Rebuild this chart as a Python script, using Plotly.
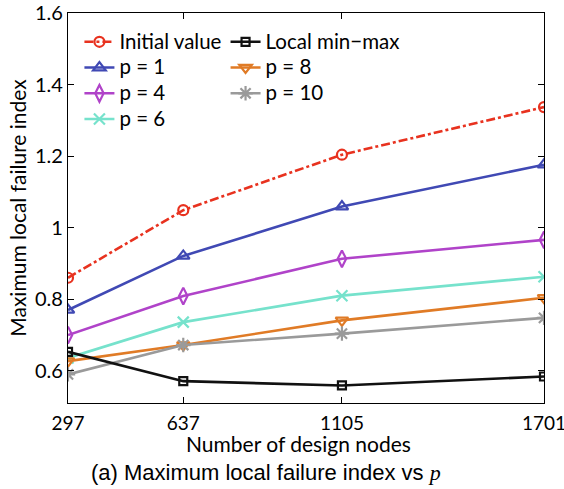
import plotly.graph_objects as go

nodes = [297, 637, 1105, 1701]
initial_value = [0.860, 1.049, 1.204, 1.337]
p1 = [0.770, 0.921, 1.059, 1.176]
p4 = [0.700, 0.809, 0.913, 0.966]
p6 = [0.636, 0.736, 0.810, 0.863]
p8 = [0.627, 0.672, 0.741, 0.804]
p10 = [0.590, 0.672, 0.704, 0.748]
local_minmax = [0.653, 0.571, 0.559, 0.584]

y_ticks = [0.6, 0.8, 1.0, 1.2, 1.4, 1.6]
y_tick_text = ["0.6", "0.8", "1", "1.2", "1.4", "1.6"]

FONT = "Lato"

series = [
    ("Initial value", initial_value, "#e8321f", "circle-open", "dashdot", 10, "legend"),
    ("p = 1", p1, "#4049b4", "triangle-up-open", "solid", 11, "legend"),
    ("p = 4", p4, "#b043c9", "diamond-tall-open", "solid", 12, "legend"),
    ("p = 6", p6, "#76e2cc", "x-thin-open", "solid", 11, "legend"),
    ("Local min\u2212max", local_minmax, "#111111", "square-open", "solid", 8, "legend2"),
    ("p = 8", p8, "#e07b26", "triangle-down-open", "solid", 11, "legend2"),
    ("p = 10", p10, "#9a9a9a", "asterisk-open", "solid", 12, "legend2"),
]

fig = go.Figure()
order = [0, 1, 2, 3, 5, 6, 4]
for i in order:
    name, vals, col, sym, dash, msize, lg = series[i]
    fig.add_trace(go.Scatter(
        x=nodes, y=vals,
        name="<span style='font-size:20.5px'>" + name + "</span>",
        mode="lines+markers",
        line=dict(color=col, width=2.6, dash=dash),
        marker=dict(symbol=sym, size=msize, color=col, line=dict(color=col, width=2.2)),
        legend=lg, legendrank=i,
    ))

axis_common = dict(
    showline=True, linecolor="black", linewidth=1.3, mirror="ticks",
    ticks="inside", ticklen=6, tickwidth=1, tickcolor="black",
    showgrid=False, zeroline=False, automargin=False,
)

fig.update_xaxes(range=[297, 1701], tickmode="array", tickvals=nodes,
                 ticktext=[str(n) for n in nodes], ticklabeloverflow="allow",
                 ticklabelstandoff=3,
                 tickfont=dict(family=FONT, size=19, color="black"),
                 **axis_common)
fig.update_yaxes(range=[0.51, 1.6], tickmode="array", tickvals=y_ticks, ticktext=y_tick_text,
                 ticklabeloverflow="allow",
                 tickfont=dict(family=FONT, size=20, color="black"),
                 title=dict(text="Maximum local failure index", font=dict(family=FONT, size=21, color="black"), standoff=2),
                 **axis_common)

leg_common = dict(
    bgcolor="rgba(0,0,0,0)", borderwidth=0,
    font=dict(family=FONT, size=17.5, color="black"),
    xanchor="left", yanchor="top", itemwidth=30, tracegroupgap=0,
)

fig.update_layout(
    width=564, height=489,
    margin=dict(l=68, r=20, t=13, b=86, autoexpand=False),
    plot_bgcolor="white", paper_bgcolor="white",
    legend=dict(x=0.024, y=0.972, **leg_common),
    legend2=dict(x=0.331, y=0.972, **leg_common),
    annotations=[
        dict(text="Number of design nodes",
             xref="paper", yref="paper", x=0.485, y=-0.103, xanchor="center", yanchor="middle",
             showarrow=False, font=dict(family=FONT, size=21, color="black")),
        dict(text="(a) Maximum local failure index vs <span style='font-family:Liberation Serif'><i>p</i></span>",
             xref="paper", yref="paper", x=0.416, y=-0.179, xanchor="center", yanchor="middle",
             showarrow=False, font=dict(family="Liberation Sans", size=22, color="black")),
    ],
)

fig.write_html("out.html", config={"displayModeBar": False},
               post_script="document.body.style.margin='0';document.body.style.padding='0';")
